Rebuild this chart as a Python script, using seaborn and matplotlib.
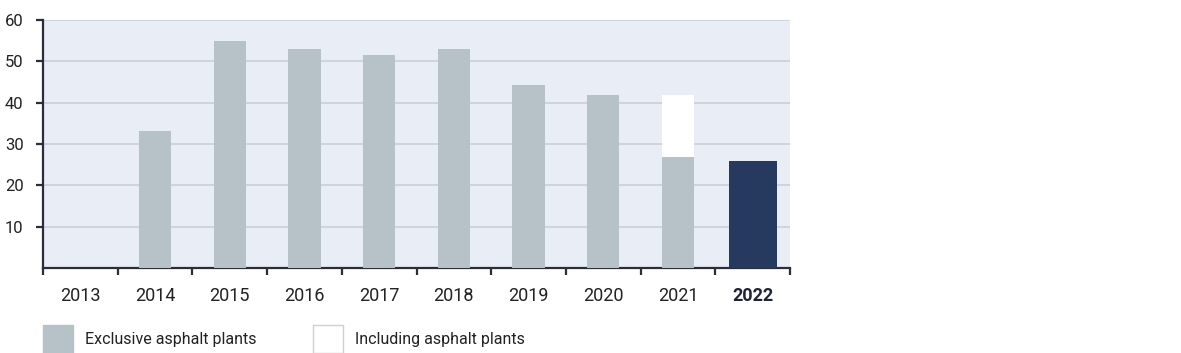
import matplotlib
matplotlib.use("Agg")
import matplotlib.pyplot as plt
import matplotlib.patches as mpatches
import seaborn as sns
import pandas as pd
import numpy as np

years = ["2013", "2014", "2015", "2016", "2017", "2018", "2019", "2020", "2021", "2022"]
exclusive = [np.nan, 33.1, 54.9, 53.0, 51.6, 53.0, 44.3, 41.9, 26.9, np.nan]
including = [np.nan, np.nan, np.nan, np.nan, np.nan, np.nan, np.nan, np.nan, 41.9, np.nan]
current = [np.nan] * 9 + [25.9]
yticks = [10, 20, 30, 40, 50, 60]
legend_labels = ["Exclusive asphalt plants", "Including asphalt plants"]

GRAY = "#b7c2c8"
NAVY = "#263a5f"
BG = "#e8edf6"
GRID = "#c9ced9"
AXC = "#2b2d3a"
TXT = "#222222"

sns.set_theme(style="white")
plt.rcParams["font.family"] = ["Roboto", "DejaVu Sans"]

df = pd.DataFrame({"year": years, "exclusive": exclusive,
                   "including": including, "current": current})

fig = plt.figure(figsize=(11.81, 3.53), dpi=100)
ax = fig.add_axes([43 / 1181, 1 - 268 / 353, (790 - 43) / 1181, (268 - 20) / 353])
ax.set_facecolor(BG)

bar_kw = dict(saturation=1, ax=ax, zorder=3, edgecolor="none", linewidth=0)
sns.barplot(data=df.dropna(subset=["including"]), x="year", y="including", order=years,
            color="white", width=0.43, **bar_kw)
sns.barplot(data=df.dropna(subset=["exclusive"]), x="year", y="exclusive", order=years,
            color=GRAY, width=0.43, **bar_kw)
sns.barplot(data=df.dropna(subset=["current"]), x="year", y="current", order=years,
            color=NAVY, width=0.64, **bar_kw)

ax.set_xlim(-0.5, len(years) - 0.5)
ax.set_ylim(0, 60)
ax.set_yticks(yticks)
ax.yaxis.grid(True, color=GRID, linewidth=1.2, zorder=0)
ax.set_axisbelow(True)
ax.set_xlabel("")
ax.set_ylabel("")

for s in ["top", "right"]:
    ax.spines[s].set_visible(False)
for s in ["left", "bottom"]:
    ax.spines[s].set_color(AXC)
    ax.spines[s].set_linewidth(1.6)

ax.tick_params(axis="y", length=5, width=1.6, color=AXC, pad=9, labelsize=12, labelcolor=TXT, left=True)
ax.set_xticks(np.arange(len(years)))
ax.set_xticklabels(years)
ax.tick_params(axis="x", length=0, pad=14, labelsize=13, labelcolor=TXT)
ax.get_xticklabels()[-1].set_fontweight("bold")
ax.get_xticklabels()[-1].set_color("#1e2233")

# boundary tick marks between categories
ax.set_xticks(np.arange(len(years) + 1) - 0.5, minor=True)
ax.tick_params(axis="x", which="minor", length=5, width=1.6, color=AXC, bottom=True)

handles = [mpatches.Patch(facecolor=GRAY, edgecolor=GRAY),
           mpatches.Patch(facecolor="white", edgecolor="#d0d0d0", linewidth=1)]
fig.legend(handles, legend_labels, loc="lower left", bbox_to_anchor=(43 / 1181, 0.0),
           ncol=2, frameon=False, fontsize=11.5, handlelength=1.85, handleheight=2.3,
           handletextpad=0.75, columnspacing=3.55, borderaxespad=0, borderpad=0.02,
           labelcolor=TXT)

fig.savefig("out.png", dpi=100, facecolor="white")
